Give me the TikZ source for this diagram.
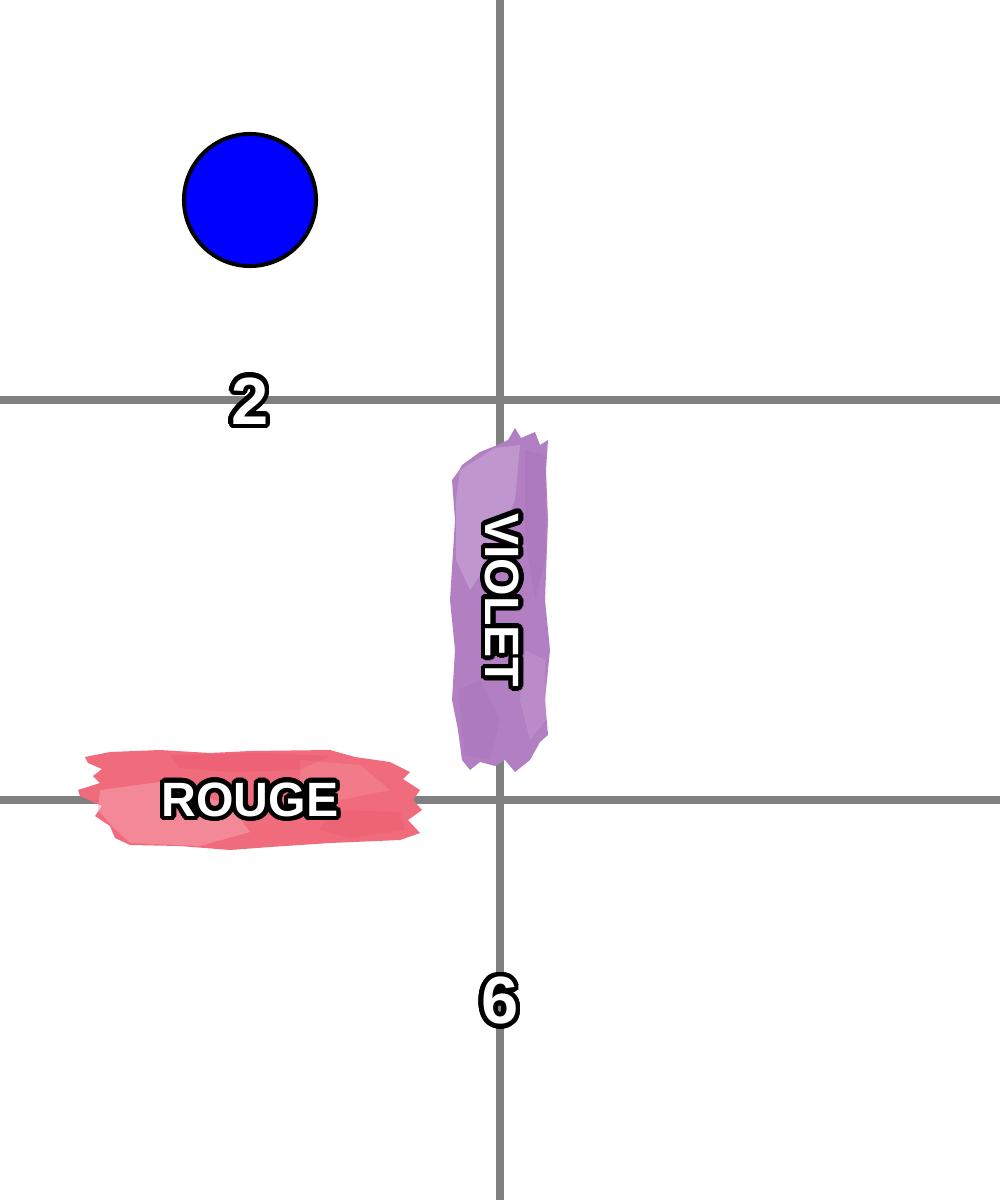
\documentclass[tikz,border=0pt]{standalone}
\usepackage{fontspec}
\setmainfont{Liberation Sans}
\usepackage[copies]{contour}
\contourlength{1.3pt}
\contournumber{32}
\definecolor{gridgray}{HTML}{808080}
\definecolor{rougebase}{HTML}{F06B7B}
\definecolor{rougelight}{HTML}{F7A3AE}
\definecolor{rougedark}{HTML}{E85468}
\definecolor{violetbase}{HTML}{B27FC2}
\definecolor{violetlight}{HTML}{CDA9D8}
\definecolor{violetdark}{HTML}{A66FB8}
\tikzset{
  gridline/.style={draw=gridgray,line width=0.08cm},
  dot/.style={circle,draw=black,fill=blue,line width=0.04cm,minimum size=1.32cm,inner sep=0pt},
  bignum/.style={text=white,font=\fontsize{19}{20}\selectfont\bfseries,inner sep=0pt},
  wordlabel/.style={text=white,font=\fontsize{13.7}{14}\selectfont\bfseries,inner sep=0pt},
}
\begin{document}
\begin{tikzpicture}[x=0.01cm,y=-0.01cm]
\useasboundingbox (0,0) rectangle (1000,1200);
\fill[white] (0,0) rectangle (1000,1200);
% grid
\draw[gridline] (500,0) -- (500,1200);
\draw[gridline] (0,400) -- (1000,400);
\draw[gridline] (0,800) -- (1000,800);
% red brush
\fill[rougebase] (85,757) -- (110,752) -- (160,750) -- (210,753) -- (250,751) -- (330,750) -- (355,757) -- (390,762) -- (410,772) -- (403,779) -- (420,790) -- (413,800) -- (422,810) -- (408,820) -- (420,833) -- (400,840) -- (330,843) -- (270,847) -- (230,850) -- (180,846) -- (130,845) -- (115,838) -- (110,826) -- (95,816) -- (102,806) -- (80,796) -- (78,790) -- (100,783) -- (93,776) -- (102,769) -- (88,763) -- cycle;
\fill[rougelight,opacity=0.55] (100,790) -- (160,782) -- (230,805) -- (250,832) -- (200,846) -- (130,843) -- (112,826) -- (98,810) -- cycle;
\fill[rougelight,opacity=0.3] (300,760) -- (360,765) -- (390,790) -- (340,800) -- (300,785) -- cycle;
\fill[rougedark,opacity=0.35] (170,755) -- (260,753) -- (330,756) -- (300,770) -- (230,772) -- (180,768) -- cycle;
\fill[rougedark,opacity=0.3] (330,810) -- (400,812) -- (405,830) -- (350,838) -- (320,830) -- cycle;
% violet brush
\fill[violetbase] (462,465) -- (480,452) -- (495,446) -- (508,440) -- (515,428) -- (521,438) -- (535,432) -- (540,445) -- (548,440) -- (546,470) -- (548,520) -- (545,600) -- (550,650) -- (545,700) -- (548,735) -- (540,742) -- (530,760) -- (515,772) -- (505,760) -- (495,766) -- (480,762) -- (470,770) -- (462,760) -- (458,730) -- (452,700) -- (455,650) -- (450,600) -- (455,520) -- (452,480) -- (458,472) -- cycle;
\fill[violetlight,opacity=0.55] (460,470) -- (495,448) -- (520,445) -- (515,500) -- (490,560) -- (470,590) -- (456,560) -- (456,500) -- cycle;
\fill[violetlight,opacity=0.3] (525,650) -- (545,660) -- (546,720) -- (530,740) -- (520,700) -- cycle;
\fill[violetdark,opacity=0.35] (525,450) -- (545,455) -- (545,560) -- (535,600) -- (525,540) -- cycle;
\fill[violetdark,opacity=0.3] (458,690) -- (480,680) -- (500,720) -- (490,760) -- (465,755) -- cycle;
% blue circle
\node[dot] (c) at (250,200) {};
% labels
\node[bignum] (n2) at (250,403) {\contour{black}{2}};
\node[bignum] (n6) at (500,1003) {\contour{black}{6}};
\node[wordlabel] (rouge) at (250,802) {\contour{black}{ROUGE}};
\node[wordlabel,rotate=-90] (violet) at (500,600) {\contour{black}{VIOLET}};
\end{tikzpicture}
\end{document}
